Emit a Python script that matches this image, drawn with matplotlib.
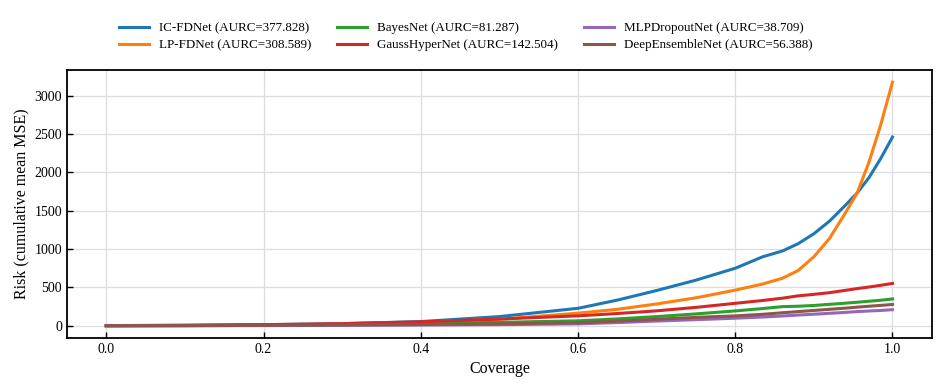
import matplotlib
matplotlib.use("Agg")
import matplotlib.pyplot as plt

coverage = [0.0, 0.1, 0.2, 0.3, 0.4, 0.5, 0.6, 0.65, 0.7, 0.75, 0.8, 0.835, 0.86,
            0.88, 0.9, 0.92, 0.94, 0.955, 0.97, 0.985, 1.0]

ic_fdnet = [2, 6, 14, 28, 55, 120, 228, 335, 460, 595, 750, 900, 975,
            1070, 1200, 1365, 1570, 1730, 1930, 2180, 2460]
lp_fdnet = [1, 4, 10, 20, 45, 85, 165, 215, 285, 365, 465, 545, 620,
            720, 900, 1140, 1470, 1730, 2130, 2620, 3175]
bayesnet = [1, 3, 8, 15, 28, 45, 65, 90, 120, 155, 194, 225, 250,
            255, 265, 280, 295, 307, 320, 333, 350]
gausshyper = [3, 7, 15, 28, 52, 88, 130, 160, 195, 240, 293, 330, 360,
              390, 410, 432, 462, 485, 505, 528, 552]
mlpdropout = [0, 1, 3, 6, 10, 15, 25, 42, 62, 80, 99, 115, 128,
              140, 151, 163, 175, 185, 193, 200, 210]
deepensemble = [1, 2, 5, 10, 17, 25, 40, 60, 85, 110, 129, 150, 170,
                185, 200, 215, 230, 243, 255, 266, 278]

labels = ["IC-FDNet (AURC=377.828)", "LP-FDNet (AURC=308.589)",
          "BayesNet (AURC=81.287)", "GaussHyperNet (AURC=142.504)",
          "MLPDropoutNet (AURC=38.709)", "DeepEnsembleNet (AURC=56.388)"]
series = [ic_fdnet, lp_fdnet, bayesnet, gausshyper, mlpdropout, deepensemble]
colors = ["#1f77b4", "#ff7f0e", "#2ca02c", "#d62728", "#9467bd", "#8c564b"]

plt.rcParams['font.family'] = ['Liberation Serif', 'DejaVu Serif']
plt.rcParams['mathtext.fontset'] = 'stix'

fig = plt.figure(figsize=(9.46, 3.92), dpi=100)
ax = fig.add_axes([0.0708, 0.1378, 0.9142, 0.6836])

for ys, lab, c in zip(series, labels, colors):
    ax.plot(coverage, ys, color=c, lw=2.2, label=lab)

ax.grid(True, color="#dddddd", lw=0.9)
ax.set_axisbelow(True)
ax.tick_params(direction="in", labelsize=10, length=4, width=1)
for s in ax.spines.values():
    s.set_linewidth(1.3)
ax.set_xlabel("Coverage", fontsize=11.5)
ax.set_ylabel("Risk (cumulative mean MSE)", fontsize=11.5)
ax.set_xticks([0.0, 0.2, 0.4, 0.6, 0.8, 1.0])
ax.set_yticks([0, 500, 1000, 1500, 2000, 2500, 3000])

ax.legend(loc="lower center", bbox_to_anchor=(0.461, 1.035), ncol=3, frameon=False,
          fontsize=9.4, handlelength=2.3, columnspacing=2.0, handletextpad=0.75,
          labelspacing=0.4, borderaxespad=0.3)

fig.savefig("out.png", dpi=100)
